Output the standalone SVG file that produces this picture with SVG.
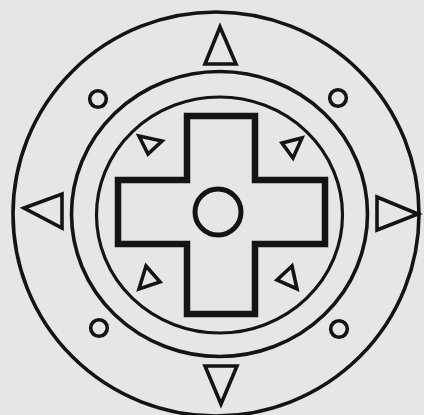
<svg xmlns="http://www.w3.org/2000/svg" width="424" height="415" viewBox="0 0 424 415">
<style>
.l{fill:none;stroke:#141414;stroke-linejoin:miter}
.r{stroke-width:3.6}
.t{stroke-width:3.6}
.s{stroke-width:3.6}
.c{stroke-width:6.5}
</style>
<rect x="0" y="0" width="424" height="415" fill="#e6e6e6"/>
<g id="rings">
<ellipse class="l r" cx="216" cy="214" rx="203" ry="202"/>
<ellipse class="l r" cx="219.5" cy="214" rx="148" ry="142.5"/>
<ellipse class="l" style="stroke-width:3.2" cx="219.5" cy="215" rx="123" ry="118"/>
</g>
<g id="cross">
<path class="l c" d="M187,116 H255 V180 H325 V244 H255 V314 H187 V244 H118 V180 H187 Z"/>
<circle class="l" style="stroke-width:5" cx="218" cy="212" r="23"/>
</g>
<g id="big-triangles">
<polygon class="l t" points="220,27 205,64 236,64"/>
<polygon class="l t" points="205,366 237,366 221,404"/>
<polygon class="l t" points="24,208 62,194 62,228"/>
<polygon class="l t" points="377,197 377,230 418,214"/>
</g>
<g id="small-circles">
<circle class="l s" cx="98" cy="99" r="8.3"/>
<circle class="l s" cx="338" cy="98" r="8.3"/>
<circle class="l s" cx="99" cy="328" r="8.3"/>
<circle class="l s" cx="339" cy="329" r="8.3"/>
</g>
<g id="small-triangles">
<polygon class="l s" points="139,136 162,141 148,154"/>
<polygon class="l s" points="282,143 302,138 293,158"/>
<polygon class="l s" points="146,266 160,282 139,289"/>
<polygon class="l s" points="292,266 277,280 297,289"/>
</g>
</svg>
